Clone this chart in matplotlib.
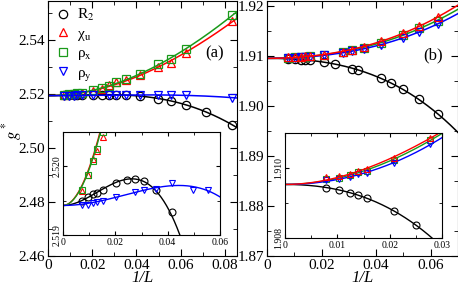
import numpy as np
import matplotlib
matplotlib.use('Agg')
import matplotlib.pyplot as plt
from matplotlib.ticker import MultipleLocator, FuncFormatter

plt.rcParams['font.family'] = ['Liberation Serif', 'DejaVu Serif']
plt.rcParams['mathtext.fontset'] = 'stix'

# ---- panel (a) data, x = 1/L ----
ga_inf = 2.51943   # common limit read at 1/L = 0
xa_r2 = [0.0071, 0.0097, 0.0116, 0.0129, 0.0152, 0.0203, 0.0243, 0.0276, 0.0309, 0.0355,
         0.0415, 0.0498, 0.0555, 0.0625, 0.0714, 0.0833]
ya_r2 = [2.5195, 2.51955, 2.51959, 2.51961, 2.51966, 2.51976, 2.5198, 2.51982, 2.51978, 2.51965,
         2.51933, 2.5183, 2.5174, 2.5160, 2.5135, 2.5086]
xa_rhoy = [0.0071, 0.0097, 0.0116, 0.0129, 0.0152, 0.0203, 0.0276, 0.0309, 0.0355,
           0.0415, 0.0498, 0.0555, 0.0625, 0.0833]
ya_rhoy = [2.51943, 2.51944, 2.51947, 2.51948, 2.5195, 2.51956, 2.51962, 2.51966, 2.51967,
           2.51976, 2.51966, 2.51966, 2.5195, 2.5187]
xa_col = [0.0071, 0.0097, 0.0116, 0.0129, 0.0152, 0.0203, 0.0243, 0.0276, 0.0309, 0.0355,
          0.0415, 0.0498, 0.0555, 0.0625, 0.0833]
ya_rhox = [2.51966, 2.51987, 2.52008, 2.52025, 2.5205, 2.5215, 2.5222, 2.5230, 2.5243, 2.5255,
           2.5276, 2.5310, 2.5329, 2.5368, 2.5492]
ya_chi = [2.51964, 2.51988, 2.52011, 2.52023, 2.52042, 2.5213, 2.5220, 2.5234, 2.5243, 2.5253,
          2.5271, 2.5300, 2.5316, 2.5353, 2.5470]

# ---- panel (b) data ----
gb_inf = 1.90953
xb_r2 = [0.0078, 0.0104, 0.0125, 0.0139, 0.0156, 0.0208, 0.025, 0.0312, 0.0333, 0.0417,
         0.0455, 0.05, 0.0556, 0.0625]
yb_r2 = [1.90944, 1.90937, 1.90928, 1.90923, 1.90915, 1.90877, 1.90837, 1.9075, 1.9072, 1.90554,
         1.90454, 1.90334, 1.9014, 1.8984]
xb_col = [0.0078, 0.0104, 0.0125, 0.0139, 0.0156, 0.0208, 0.0278, 0.0312, 0.0357, 0.0417,
          0.05, 0.0556, 0.0625]
yb_rhox = [1.9097, 1.90972, 1.9098, 1.90988, 1.90992, 1.91023, 1.9108, 1.9112, 1.9117, 1.91267,
           1.9142, 1.91553, 1.91707]
yb_chi = [1.90973, 1.90976, 1.90984, 1.90992, 1.90997, 1.91028, 1.91087, 1.9113, 1.9119, 1.9130,
          1.91453, 1.916, 1.91773]
yb_rhoy = [1.90966, 1.90968, 1.90975, 1.90983, 1.90986, 1.91013, 1.91068, 1.9110, 1.9115, 1.9122,
           1.91353, 1.91487, 1.9164]

GREEN = '#1a9a1a'


def fit(x, y, a0, powers):
    # corrections to scaling with a fixed limit a0 at 1/L = 0
    x = np.asarray(x)
    A = np.column_stack([x ** p for p in powers])
    c = np.linalg.lstsq(A, np.asarray(y) - a0, rcond=None)[0]
    return lambda t: a0 + sum(ci * t ** p for ci, p in zip(c, powers))


def style(ax, size, inset=False):
    ax.tick_params(which='both', direction='in', top=True, right=True, labelsize=size)
    ax.tick_params(which='major', length=3 if inset else 5)
    ax.tick_params(which='minor', length=2 if inset else 3)
    if inset:
        ax.tick_params(axis='x', pad=2)
        ax.tick_params(axis='y', pad=1)
        for lb in ax.get_yticklabels():
            lb.set_rotation(90)
            lb.set_va('center')
    else:
        ax.tick_params(axis='x', pad=2)
        ax.tick_params(axis='y', pad=2)


xfmt = FuncFormatter(lambda v, p: '0' if abs(v) < 1e-12 else '%g' % v)

fig = plt.figure(figsize=(4.58, 2.87), dpi=100)
axa = fig.add_axes([48 / 458, 31 / 287, 189 / 458, 255 / 287])
axb = fig.add_axes([267 / 458, 31 / 287, 191 / 458, 255 / 287])
ina = fig.add_axes([63 / 458, 52 / 287, 157 / 458, 103 / 287])
inb = fig.add_axes([285 / 458, 49 / 287, 157 / 458, 105 / 287])

series_a = [(xa_r2, ya_r2, 'o', 'k', [2, 3, 4]),
            (xa_col, ya_chi, '^', 'r', [2, 3]),
            (xa_col, ya_rhox, 's', GREEN, [2, 3]),
            (xa_rhoy, ya_rhoy, 'v', 'b', [2, 3, 4])]
labels = ['R$_2$', 'χ$_\\mathrm{u}$', 'ρ$_\\mathrm{x}$', 'ρ$_\\mathrm{y}$']

ta = np.linspace(0, 0.0855, 300)
ti = np.linspace(0, 0.06, 300)
for (x, y, m, c, pw), lab in zip(series_a, labels):
    f = fit(x, y, ga_inf, pw)
    axa.plot(ta, f(ta), color=c, lw=1.1)
    axa.plot(x, y, m, mfc='none', mec=c, ms=6, mew=0.9, ls='none', label=lab)
    # inset uses only the larger sizes
    xs = np.asarray(x)
    sel = xs < 0.058
    fi = fit(xs[sel], np.asarray(y)[sel], ga_inf, pw)
    ina.plot(ti, fi(ti), color=c, lw=1.0)
    ina.plot(xs[sel], np.asarray(y)[sel], m, mfc='none', mec=c, ms=5, mew=0.8, ls='none')

series_b = [(xb_r2, yb_r2, 'o', 'k'),
            (xb_col, yb_rhox, 's', GREEN),
            (xb_col, yb_rhoy, 'v', 'b'),
            (xb_col, yb_chi, '^', 'r')]
tb = np.linspace(0, 0.07, 300)
tib = np.linspace(0, 0.03, 300)
for x, y, m, c in series_b:
    f = fit(x, y, gb_inf, [2, 3])
    axb.plot(tb, f(tb), color=c, lw=1.1)
    axb.plot(x, y, m, mfc='none', mec=c, ms=6, mew=0.9, ls='none')
    xs = np.asarray(x)
    sel = xs < 0.03
    fi = fit(xs[sel], np.asarray(y)[sel], gb_inf, [2, 3])
    inb.plot(tib, fi(tib), color=c, lw=1.0)
    inb.plot(xs[sel], np.asarray(y)[sel], m, mfc='none', mec=c, ms=5, mew=0.8, ls='none')

# main (a)
axa.set_xlim(0, 0.0855)
axa.set_ylim(2.46, 2.5545)
axa.xaxis.set_major_locator(MultipleLocator(0.02))
axa.xaxis.set_minor_locator(MultipleLocator(0.01))
axa.yaxis.set_major_locator(MultipleLocator(0.02))
axa.yaxis.set_minor_locator(MultipleLocator(0.01))
axa.xaxis.set_major_formatter(xfmt)
axa.yaxis.set_major_formatter(FuncFormatter(lambda v, p: '%.2f' % v))
style(axa, 11)
axa.set_xlabel('1/L', fontsize=12, style='italic', labelpad=-1)
fig.text(12 / 458, (287 - 131) / 287, '$g^*$', rotation=90, ha='center', va='center', fontsize=12)
axa.text(0.93, 0.78, '(a)', transform=axa.transAxes, ha='right', fontsize=12)
axa.legend(loc='upper left', frameon=False, fontsize=11, handletextpad=0.3,
           borderaxespad=0.1, labelspacing=0.25, handlelength=1.2, borderpad=0.3)

# main (b)
axb.set_xlim(0, 0.07)
axb.set_ylim(1.87, 1.921)
axb.xaxis.set_major_locator(MultipleLocator(0.02))
axb.xaxis.set_minor_locator(MultipleLocator(0.01))
axb.yaxis.set_major_locator(MultipleLocator(0.01))
axb.yaxis.set_minor_locator(MultipleLocator(0.005))
axb.xaxis.set_major_formatter(xfmt)
axb.yaxis.set_major_formatter(FuncFormatter(lambda v, p: '%.2f' % v))
style(axb, 11)
axb.set_xlabel('1/L', fontsize=12, style='italic', labelpad=-1)
axb.text(0.92, 0.77, '(b)', transform=axb.transAxes, ha='right', fontsize=12)

# inset (a)
ina.set_xlim(0, 0.06)
ina.set_ylim(2.519, 2.5205)
ina.xaxis.set_major_locator(MultipleLocator(0.02))
ina.xaxis.set_minor_locator(MultipleLocator(0.01))
ina.yaxis.set_major_locator(MultipleLocator(0.001))
ina.yaxis.set_minor_locator(MultipleLocator(0.0005))
ina.xaxis.set_major_formatter(xfmt)
ina.yaxis.set_major_formatter(FuncFormatter(lambda v, p: '%.3f' % v))
style(ina, 7, inset=True)

# inset (b)
inb.set_xlim(0, 0.03)
inb.set_ylim(1.908, 1.911)
inb.xaxis.set_major_locator(MultipleLocator(0.01))
inb.xaxis.set_minor_locator(MultipleLocator(0.005))
inb.yaxis.set_major_locator(MultipleLocator(0.002))
inb.yaxis.set_minor_locator(MultipleLocator(0.001))
inb.xaxis.set_major_formatter(xfmt)
inb.yaxis.set_major_formatter(FuncFormatter(lambda v, p: '%.3f' % v))
style(inb, 7, inset=True)

fig.savefig('out.png', dpi=100)
